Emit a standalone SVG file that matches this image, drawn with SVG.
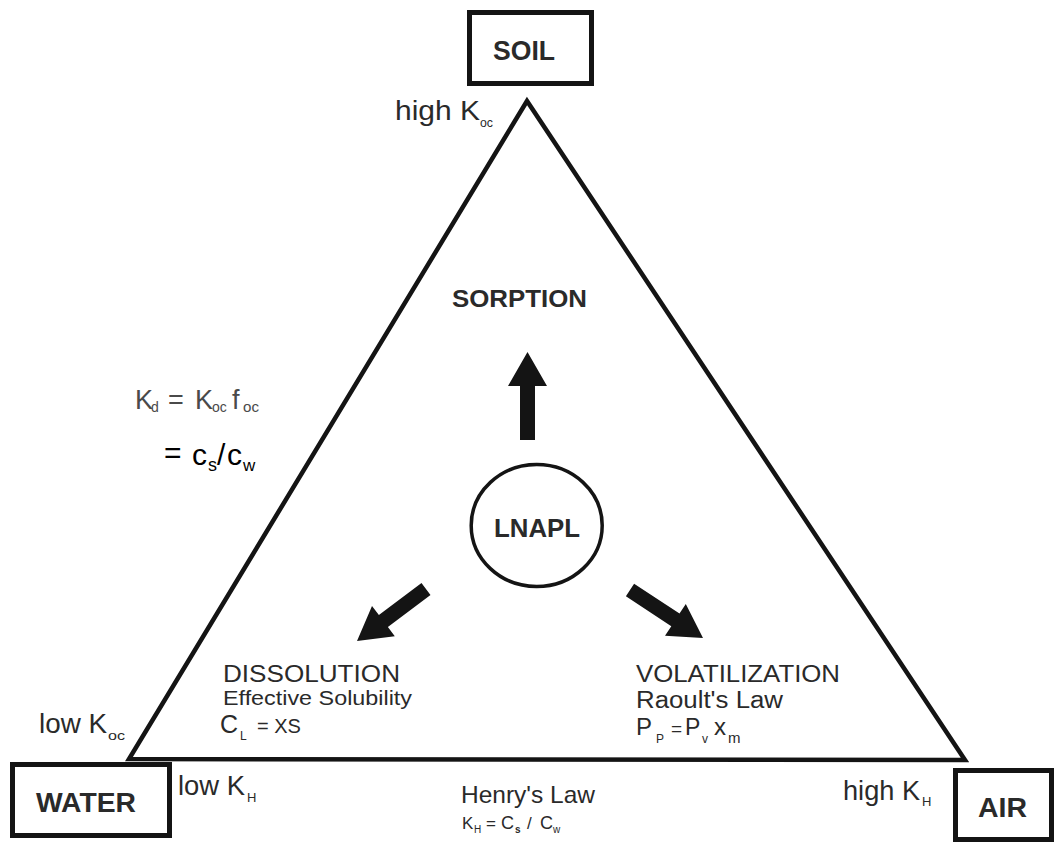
<svg xmlns="http://www.w3.org/2000/svg" width="1058" height="853" viewBox="0 0 1058 853">
<style>
text{font-family:"Liberation Sans",Arial,Helvetica,sans-serif;fill:#2a2a2a}
.b{font-weight:bold}
.box{fill:#fff;stroke:#141414;stroke-width:5}
.edge{fill:none;stroke:#141414;stroke-width:4.5;stroke-linejoin:miter;stroke-miterlimit:10}
.arr{fill:#141414}
.g{fill:#4a4a4a}
.k{fill:#000}
</style>
<rect width="1058" height="853" fill="#fff"/>
<g id="connectors">
<path class="edge" d="M527,101 L129,759 L965,760 Z"/>
<polygon class="arr" points="527.5,352 547,386 535,386 535,440 520,440 520,386 508,386"/>
<polygon class="arr" points="357,641 394.8,636.3 387.9,627.1 430.5,595 421.5,583 378.9,615.1 372,605.9"/>
<polygon class="arr" points="703,638 685.8,604 679.5,613.6 634.1,583.7 625.9,596.3 671.3,626.2 665,635.8"/>
</g>
<g id="node-soil">
<rect class="box" x="469.5" y="12.5" width="122" height="71"/>
<text class="b" x="493" y="60" font-size="28" textLength="62" lengthAdjust="spacingAndGlyphs">SOIL</text>
</g>
<g id="node-water">
<rect class="box" x="12.5" y="764.5" width="157" height="71"/>
<text class="b" x="36" y="812" font-size="27" textLength="100" lengthAdjust="spacingAndGlyphs">WATER</text>
</g>
<g id="node-air">
<rect class="box" x="955.5" y="770.5" width="96" height="69"/>
<text class="b" x="978" y="817" font-size="27" textLength="49" lengthAdjust="spacingAndGlyphs">AIR</text>
</g>
<g id="node-lnapl">
<ellipse cx="536.7" cy="525.5" rx="65.5" ry="61" fill="#fff" stroke="#141414" stroke-width="3.5"/>
<text class="b" x="494" y="537" font-size="25" textLength="86" lengthAdjust="spacingAndGlyphs">LNAPL</text>
</g>
<g id="labels">
<text x="395" y="120" font-size="27" textLength="85" lengthAdjust="spacingAndGlyphs">high K</text>
<text x="480" y="127" font-size="13" textLength="13" lengthAdjust="spacingAndGlyphs">oc</text>

<text class="b" x="452" y="307" font-size="24" textLength="135" lengthAdjust="spacingAndGlyphs">SORPTION</text>

<text class="g" x="135" y="409" font-size="27">K</text>
<text class="g" x="151" y="412" font-size="14">d</text>
<text class="g" x="168" y="409" font-size="27">=</text>
<text class="g" x="195" y="409" font-size="27">K</text>
<text class="g" x="212" y="412" font-size="14">oc</text>
<text class="g" x="232" y="409" font-size="27">f</text>
<text class="g" x="243" y="412" font-size="14" textLength="16" lengthAdjust="spacingAndGlyphs">oc</text>

<text class="k" x="164" y="463" font-size="30">=</text>
<text class="k" x="192" y="465" font-size="30">c</text>
<text class="k" x="208" y="471" font-size="18">s</text>
<text class="k" x="217" y="465" font-size="30">/</text>
<text class="k" x="227" y="465" font-size="30">c</text>
<text class="k" x="243" y="471" font-size="17">w</text>

<text x="223" y="682" font-size="24" textLength="177" lengthAdjust="spacingAndGlyphs">DISSOLUTION</text>
<text x="223" y="705" font-size="20" textLength="189" lengthAdjust="spacingAndGlyphs">Effective Solubility</text>
<text x="220" y="733" font-size="25">C</text>
<text x="240" y="740" font-size="12">L</text>
<text x="257" y="733" font-size="20">= XS</text>

<text x="636" y="682" font-size="24" textLength="204" lengthAdjust="spacingAndGlyphs">VOLATILIZATION</text>
<text x="636" y="708" font-size="23" textLength="147" lengthAdjust="spacingAndGlyphs">Raoult's Law</text>
<text x="636" y="735" font-size="24">P</text>
<text x="656" y="743" font-size="12">P</text>
<text x="671" y="735" font-size="19">=</text>
<text x="685" y="735" font-size="23">P</text>
<text x="702" y="743" font-size="12">v</text>
<text x="714" y="735" font-size="24">x</text>
<text x="728" y="743" font-size="15">m</text>

<text x="39" y="733" font-size="27" textLength="68" lengthAdjust="spacingAndGlyphs">low K</text>
<text x="108" y="740" font-size="13" textLength="17" lengthAdjust="spacingAndGlyphs">oc</text>

<text x="178" y="795" font-size="27" textLength="67" lengthAdjust="spacingAndGlyphs">low K</text>
<text x="247" y="802" font-size="13">H</text>

<text x="461" y="803" font-size="24" textLength="134" lengthAdjust="spacingAndGlyphs">Henry's Law</text>
<text x="462" y="829" font-size="17">K</text>
<text x="474" y="833" font-size="10">H</text>
<text x="486" y="829" font-size="17">=</text>
<text x="501" y="829" font-size="18">C</text>
<text class="b" x="515" y="833" font-size="10">s</text>
<text x="527" y="829" font-size="17">/</text>
<text x="540" y="829" font-size="18">C</text>
<text x="553" y="833" font-size="10">w</text>

<text x="843" y="800" font-size="27" textLength="77" lengthAdjust="spacingAndGlyphs">high K</text>
<text x="922" y="806" font-size="13">H</text>
</g>
</svg>
